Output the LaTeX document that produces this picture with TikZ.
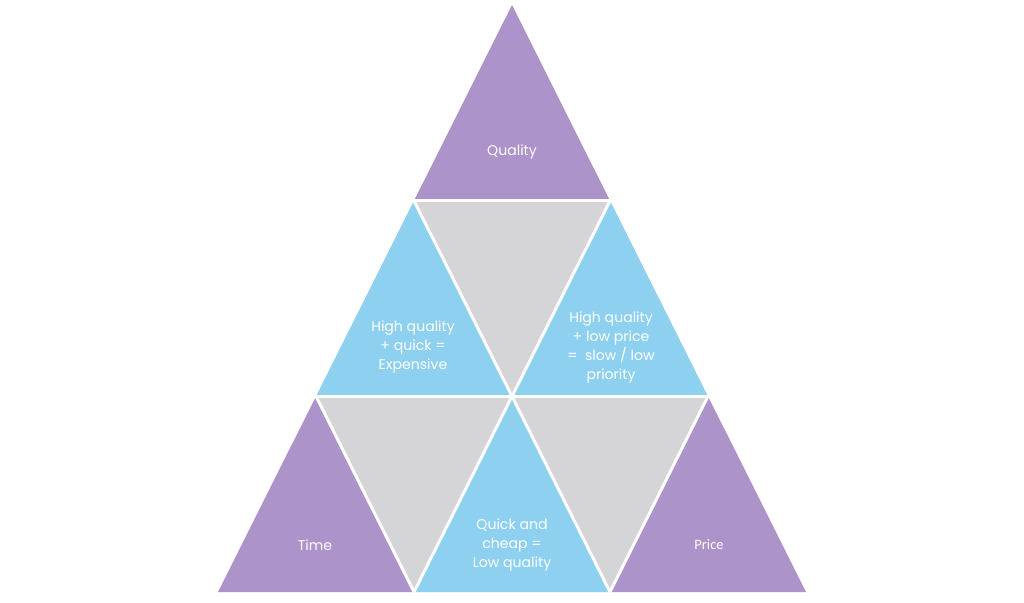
\documentclass[tikz,border=0pt]{standalone}
\usepackage{fontspec}
\setmainfont{Poppins}
\newfontfamily\carlito{Carlito}
\definecolor{tpurple}{RGB}{172,147,201}
\definecolor{tblue}{RGB}{142,208,240}
\definecolor{tgrey}{RGB}{213,213,216}
\begin{document}
\begin{tikzpicture}[x=0.01cm,y=-0.01cm,
  sep/.style={draw=white,line width=0.03cm},
  lbl/.style={text=white,align=center,font=\fontsize{4.0}{5.4}\selectfont,inner sep=0pt}]
\useasboundingbox (0,0) rectangle (1024,602);
% vertices
\coordinate (a0) at (512,5);
\coordinate (b0) at (414,200.7); \coordinate (b1) at (610,200.7);
\coordinate (c0) at (316,396.3); \coordinate (c1) at (512,396.3); \coordinate (c2) at (708,396.3);
\coordinate (d0) at (218,592); \coordinate (d1) at (414,592); \coordinate (d2) at (610,592); \coordinate (d3) at (806,592);
% fills
\fill[tpurple] (a0) -- (b0) -- (b1) -- cycle;
\fill[tblue] (b0) -- (c0) -- (c1) -- cycle;
\fill[tgrey] (b0) -- (b1) -- (c1) -- cycle;
\fill[tblue] (b1) -- (c1) -- (c2) -- cycle;
\fill[tpurple] (c0) -- (d0) -- (d1) -- cycle;
\fill[tgrey] (c0) -- (c1) -- (d1) -- cycle;
\fill[tblue] (c1) -- (d1) -- (d2) -- cycle;
\fill[tgrey] (c1) -- (c2) -- (d2) -- cycle;
\fill[tpurple] (c2) -- (d2) -- (d3) -- cycle;
% white separators
\draw[sep] (b0) -- (b1);
\draw[sep] (c0) -- (c2);
\draw[sep] (b0) -- (d2);
\draw[sep] (c0) -- (d1);
\draw[sep] (b1) -- (d1);
\draw[sep] (c2) -- (d2);
% labels
\node[lbl] (quality) at (512,152) {Quality};
\node[lbl] (expensive) at (413,347) {High quality\\+ quick =\\Expensive};
\node[lbl] (slow) at (611,347.5) {High quality\\+ low price\\=\ \ slow / low\\priority};
\node[lbl] (time) at (315,545) {Time};
\node[lbl] (cheap) at (512,545) {Quick and\\cheap =\\Low quality};
\node[lbl,font=\carlito\fontsize{4.1}{5.4}\selectfont] (price) at (709,545) {Price};
\end{tikzpicture}
\end{document}
